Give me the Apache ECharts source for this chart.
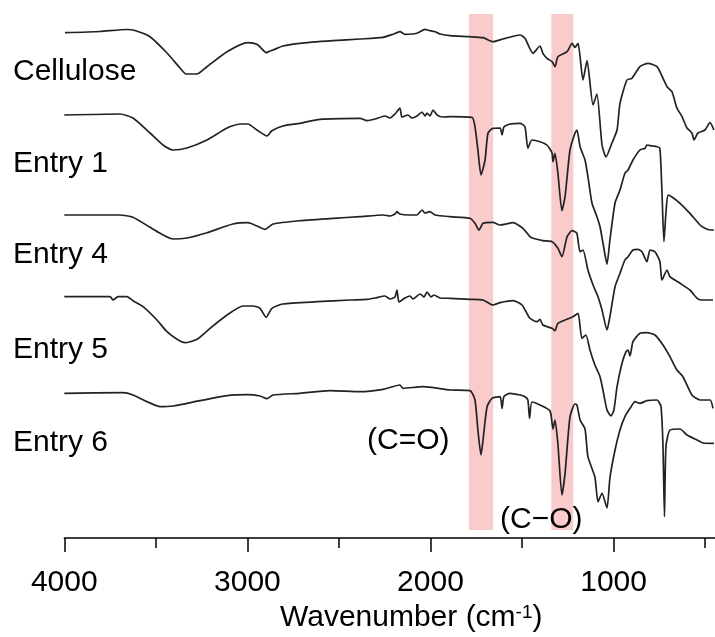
<!DOCTYPE html>
<html>
<head>
<meta charset="utf-8">
<script src="https://cdn.jsdelivr.net/npm/echarts@6/dist/echarts.min.js"></script>
<style>html,body{margin:0;padding:0;background:#fff}#c{width:715px;height:637px}</style>
</head>
<body>
<div id="c"></div>
<script>
// wavenumber (cm-1), transmittance (offset, arbitrary units)
const cellulose = [[3996,505.3],[3805,506.5],[3658,508.5],[3614,507.5],[3532,501.3],[3439,485],[3368,470],[3335,464],[3275,464],[3221,471.3],[3111,486.3],[2997,495.3],[2948,493.7],[2915,488],[2898,485.3],[2882,486.5],[2860,488],[2806,492],[2713,494.7],[2532,497.3],[2385,499],[2259,500.7],[2205,503.7],[2167,506.3],[2139,503.7],[2074,504.7],[2030,508.7],[2003,507.3],[1975,506.3],[1948,504],[1893,502.3],[1790,501.3],[1713,500.3],[1659,496.3],[1604,499],[1511,503],[1484,499.7],[1440,484.7],[1402,492],[1386,484.7],[1364,479.7],[1336,476.3],[1320,471.3],[1304,481.3],[1254,486.3],[1227,494.7],[1211,490.7],[1194,494.7],[1167,458],[1145,477.3],[1112,433],[1091,444],[1063,393],[1041,381],[1009,395],[981,408],[965,434.7],[927,458],[900,459.7],[856,471.3],[812,474.7],[763,471.3],[730,459.7],[708,451.3],[681,446.3],[654,430],[626,421.3],[599,410],[572,405],[561,398],[539,405],[501,408],[473,415.3],[452,408]];
const entry1 = [[4000,423],[3696,424],[3625,420],[3532,405],[3461,393],[3406,388],[3330,390],[3221,398],[3111,410],[3040,414],[2997,414],[2948,408],[2893,402],[2866,407.3],[2806,412],[2713,414.7],[2604,418.7],[2385,419.7],[2347,417.3],[2303,419],[2249,422],[2221,420],[2194,424],[2167,430],[2156,421],[2123,423],[2101,420],[2074,422],[2046,426],[2030,422],[2019,425],[2003,422],[1986,428],[1964,423],[1932,421],[1893,421.3],[1773,420.7],[1757,411.3],[1741,388],[1724,363],[1702,378],[1686,404.7],[1659,409.7],[1620,410],[1609,403],[1599,411],[1566,414],[1511,414.7],[1484,411.3],[1468,389.7],[1446,398],[1402,396.3],[1364,393],[1336,385],[1331,376.3],[1320,384.7],[1304,364.7],[1282,327.3],[1265,341.3],[1238,388],[1211,404.7],[1200,408],[1183,391.3],[1156,378],[1140,361.3],[1118,335],[1091,321.3],[1074,311.3],[1058,295],[1036,274],[1020,298],[992,335],[965,348],[938,364.7],[921,368],[894,378],[856,388],[828,389.7],[818,393],[790,392],[763,391.3],[747,389.7],[736,348],[725,296.3],[714,325],[703,343],[681,341],[637,334.7],[583,324.7],[528,313],[501,309.7],[473,308],[452,308]];
const entry4 = [[4000,323],[3696,323],[3625,320.7],[3532,310.7],[3477,304.7],[3406,299],[3330,300],[3221,305.3],[3079,314],[2997,315.3],[2948,312],[2904,308.7],[2860,314],[2713,317.3],[2532,319.7],[2385,321.3],[2259,323],[2221,322],[2194,324],[2183,326.3],[2167,324],[2120,323],[2074,323],[2046,328],[2030,325],[2003,326.3],[1975,323],[1893,321.3],[1784,319.7],[1757,314.7],[1735,308],[1713,314.7],[1659,315.7],[1620,313],[1549,315.3],[1495,309.7],[1457,301.3],[1440,299.7],[1386,297.3],[1336,296.3],[1304,289.7],[1282,281.3],[1254,301.3],[1227,307.3],[1211,306.3],[1200,304.7],[1183,286.3],[1167,288],[1140,268],[1112,253],[1085,241.3],[1063,228],[1036,208],[1020,221.3],[992,251.3],[965,264.7],[938,278],[921,281.3],[894,288],[867,288.7],[845,286.3],[818,276.3],[801,288],[774,286.3],[747,276.3],[736,258],[708,268],[692,261.3],[637,254.7],[583,248],[544,239.7],[512,238],[457,238]];
const entry5 = [[4000,241.3],[3750,241.3],[3734,238],[3707,241.3],[3658,241.3],[3625,237.3],[3570,231.3],[3494,218],[3439,206.3],[3384,198.7],[3341,195.3],[3275,198.7],[3204,209.7],[3111,223],[3024,232],[2969,232],[2931,229.7],[2898,220.7],[2866,229.7],[2806,234],[2620,236.3],[2440,238],[2347,238.7],[2303,240],[2249,242],[2221,239],[2194,241],[2183,248],[2172,236],[2139,240],[2112,242],[2096,239],[2057,244],[2035,241],[2019,246],[1997,241],[1981,243],[1948,240],[1893,239.7],[1784,238.7],[1713,238],[1659,233],[1620,235.3],[1549,237.3],[1500,233],[1457,219.7],[1418,216.3],[1402,218.7],[1386,213],[1336,209.7],[1320,207.3],[1304,214.7],[1254,218.7],[1222,221.3],[1194,224.7],[1173,199.7],[1151,203],[1129,188],[1102,173],[1074,161.3],[1058,148],[1036,128],[1014,122],[998,128],[981,151.3],[954,174.7],[932,186.3],[921,188],[910,182],[894,196.3],[856,204.7],[818,205.3],[774,203],[730,193],[692,181.3],[654,168],[621,161.3],[572,143],[528,138],[473,138],[457,129.7]];
const entry6 = [[4000,144.7],[3679,145.3],[3625,143],[3548,136.3],[3477,131.3],[3406,132],[3259,137.3],[3111,142.3],[3002,143.3],[2931,142],[2893,139.3],[2860,143],[2713,144.7],[2549,147.3],[2385,146.3],[2259,148.7],[2167,153],[2150,149.7],[2041,151.3],[1893,148],[1784,147.3],[1757,138],[1741,108],[1724,83],[1713,98],[1691,131.3],[1664,139.7],[1620,141.3],[1609,129.7],[1599,141.3],[1566,144.7],[1511,143],[1484,141.3],[1468,138],[1459,119.7],[1446,136],[1402,133],[1347,127],[1331,109],[1320,118],[1304,94],[1282,43],[1265,64.7],[1238,121.3],[1211,134],[1200,133],[1183,118],[1156,109],[1140,81.3],[1102,61],[1085,36.3],[1063,44.7],[1036,30],[1020,60],[992,88],[965,108],[938,121.3],[910,129.7],[883,136.3],[856,134.7],[818,137.3],[763,138],[741,131.3],[730,91.3],[722,21.3],[714,91.3],[692,108],[637,109],[599,103],[544,98],[512,95],[452,94.7]];

const sampleNames = ['Cellulose', 'Entry 1', 'Entry 4', 'Entry 5', 'Entry 6'];
const sampleData = [cellulose, entry1, entry4, entry5, entry6];
const majorTicks = [4000, 3000, 2000, 1000];
const minorTicks = [3500, 2500, 1500, 500];
const bandCO_double = [1790, 1658]; // C=O band
const bandCO_single = [1340, 1220]; // C-O band

const FONT = '"Liberation Sans", Arial, Helvetica, sans-serif';
const chart = echarts.init(document.getElementById('c'), null, {renderer: 'canvas'});

const lineSeries = sampleData.map((d, i) => ({
  name: sampleNames[i], type: 'line', data: d, showSymbol: false, symbol: 'none',
  smooth: 0.2, z: 2, lineStyle: {color: '#222', width: 1.7, join: 'round'}, silent: true
}));

const labelY = [71.5, 164, 255, 350, 442.5];
const graphics = sampleNames.map((n, i) => ({
  type: 'text', x: 13, y: labelY[i], z: 100,
  style: {text: n, fontSize: 30, fontFamily: FONT, fill: '#000', verticalAlign: 'middle', align: 'left'}
}));
graphics.push({type: 'text', x: 367, y: 441, z: 100,
  style: {text: '(C=O)', fontSize: 30, fontFamily: FONT, fill: '#000', verticalAlign: 'middle', align: 'left'}});
graphics.push({type: 'text', x: 500, y: 520, z: 100,
  style: {text: '(C\u2212O)', fontSize: 30, fontFamily: FONT, fill: '#000', verticalAlign: 'middle', align: 'left'}});
graphics.push({type: 'text', x: 280, y: 618, z: 100,
  style: {text: 'Wavenumber (cm{sup|-1})', fontSize: 30, fontFamily: FONT, fill: '#000', verticalAlign: 'middle', align: 'left',
    rich: {sup: {fontSize: 19, fontFamily: FONT, fill: '#000', verticalAlign: 'top'}}}});

chart.setOption({
  animation: false,
  backgroundColor: '#fff',
  grid: {left: 64.3, right: 0, top: 0, bottom: 99},
  xAxis: [{
    type: 'value', inverse: true, min: 446, max: 4000,
    splitLine: {show: false},
    axisLine: {show: true, lineStyle: {color: '#000', width: 1.5}},
    axisTick: {show: true, customValues: majorTicks, length: 14, lineStyle: {color: '#000', width: 1.5}},
    axisLabel: {show: true, customValues: majorTicks, formatter: v => String(v), fontSize: 30, fontFamily: FONT, color: '#000', margin: 30}
  }, {
    type: 'value', inverse: true, min: 446, max: 4000, position: 'bottom',
    splitLine: {show: false},
    axisLine: {show: false},
    axisTick: {show: true, customValues: minorTicks, length: 10, lineStyle: {color: '#000', width: 1.5}},
    axisLabel: {show: false}
  }],
  yAxis: {type: 'value', min: 0, max: 538, show: false},
  series: lineSeries.concat([{
    type: 'line', data: [], z: 5, silent: true,
    markArea: {
      silent: true,
      itemStyle: {color: 'rgba(232,55,50,0.26)'},
      data: [
        [{xAxis: bandCO_double[0], yAxis: 8}, {xAxis: bandCO_double[1], yAxis: 524}],
        [{xAxis: bandCO_single[0], yAxis: 8}, {xAxis: bandCO_single[1], yAxis: 524}]
      ]
    }
  }]),
  graphic: graphics
});
</script>
</body>
</html>
